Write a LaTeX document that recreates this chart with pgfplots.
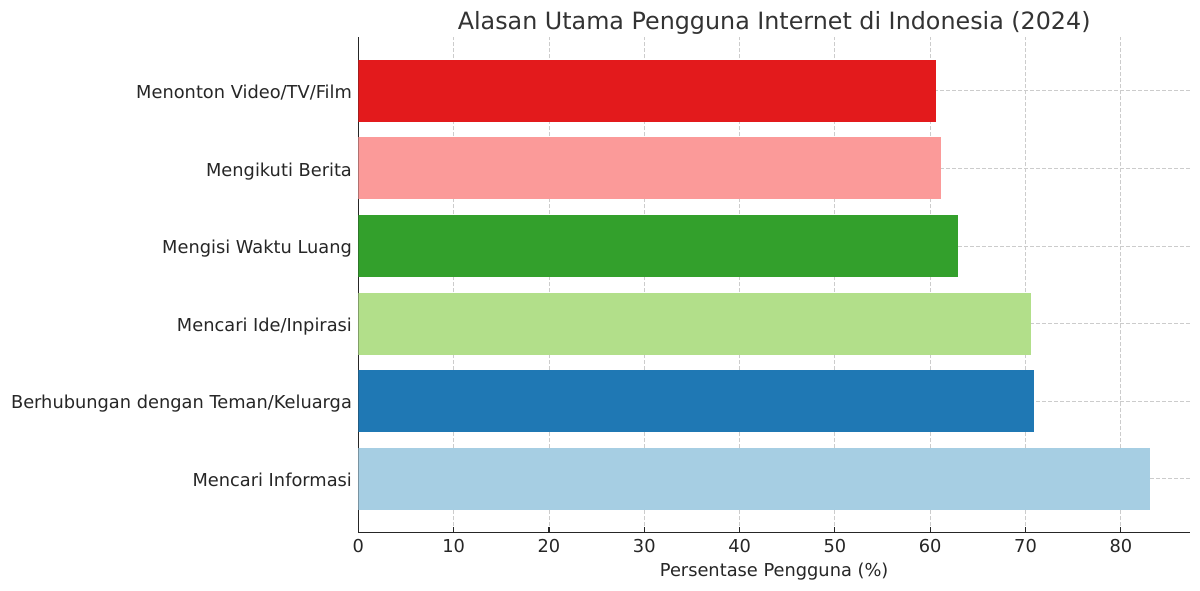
\documentclass[border=0pt]{standalone}
\usepackage{fontspec}
\setmainfont{DejaVu Sans}
\usepackage{pgfplots}
\pgfplotsset{compat=1.18}
\definecolor{pLightBlue}{HTML}{A6CEE3}
\definecolor{pBlue}{HTML}{1F78B4}
\definecolor{pLightGreen}{HTML}{B2DF8A}
\definecolor{pGreen}{HTML}{33A02C}
\definecolor{pPink}{HTML}{FB9A99}
\definecolor{pRed}{HTML}{E31A1C}
\definecolor{txt}{HTML}{262626}
\definecolor{ttl}{HTML}{333333}
\definecolor{gridc}{HTML}{CCCCCC}
\begin{document}
\begin{tikzpicture}
\path[use as bounding box] (0,0) rectangle (600pt,295pt);
\begin{axis}[
  at={(179.15pt,28.85pt)}, anchor=south west,
  width=415.85pt, height=247.5pt, scale only axis,
  xbar, bar width=0.8, bar shift=0pt,
  xmin=0, xmax=87.255,
  ymin=-0.69, ymax=5.69,
  axis x line*=bottom, axis y line*=left,
  axis line style={-, draw=txt, line width=0.75pt},
  xtick={0,10,...,80},
  ytick={0,1,2,3,4,5},
  yticklabels={Mencari Informasi, Berhubungan dengan Teman/Keluarga, Mencari Ide/Inpirasi, Mengisi Waktu Luang, Mengikuti Berita, Menonton Video/TV/Film},
  tick align=inside, major tick length=2.5pt,
  tick style={draw=txt, line width=0.6pt},
  /pgf/number format/assume math mode=true,
  tick label style={font=\fontsize{8.9}{11}\selectfont, text=txt},
  xticklabel style={anchor=base, inner sep=0pt, yshift=-10pt},
  yticklabel style={anchor=base east, inner sep=0pt, xshift=-3pt, yshift=-3.9pt},
  grid=major,
  major grid style={draw=gridc, dash pattern=on 2pt off 1pt, line width=0.4pt},
  xlabel={Persentase Pengguna (\%)},
  xlabel style={at={(0.5,0)}, anchor=base, inner sep=0pt, yshift=-22.3pt, font=\fontsize{8.9}{11}\selectfont, text=txt},
  every axis title shift=0pt,
  title={Alasan Utama Pengguna Internet di Indonesia (2024)},
  title style={at={(0.5,1)}, anchor=base, inner sep=0pt, yshift=4pt, font=\fontsize{11.9}{14}\selectfont, text=ttl},
]
\addplot[fill=pLightBlue, draw=none] coordinates {(83.1,0)};
\addplot[fill=pBlue, draw=none] coordinates {(70.9,1)};
\addplot[fill=pLightGreen, draw=none] coordinates {(70.6,2)};
\addplot[fill=pGreen, draw=none] coordinates {(62.9,3)};
\addplot[fill=pPink, draw=none] coordinates {(61.1,4)};
\addplot[fill=pRed, draw=none] coordinates {(60.6,5)};
\end{axis}
\end{tikzpicture}
\end{document}
